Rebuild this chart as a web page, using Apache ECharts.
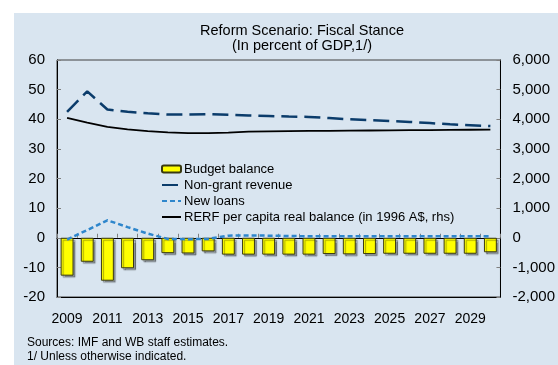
<!DOCTYPE html>
<html>
<head>
<meta charset="utf-8">
<script src="https://cdn.jsdelivr.net/npm/echarts@6/dist/echarts.min.js"></script>
<style>
  html, body { margin: 0; padding: 0; background: #ffffff; }
  #panel { position: absolute; left: 14px; top: 13px; width: 544px; height: 352px; background: #D9E5F0; }
  #chart { position: absolute; left: 0; top: 0; width: 558px; height: 365px; }
</style>
</head>
<body>
<div id="panel"></div>
<div id="chart"></div>
<script>
// Years on the category axis
const years = ['2009','2010','2011','2012','2013','2014','2015','2016','2017','2018','2019',
               '2020','2021','2022','2023','2024','2025','2026','2027','2028','2029','2030'];

// Percent of GDP (left axis)
const budgetBalance = [-12.8, -8.1, -14.5, -10.3, -7.6, -5.2, -5.3, -4.6, -5.7, -5.7, -5.7,
                       -5.7, -5.7, -5.5, -5.6, -5.5, -5.4, -5.4, -5.4, -5.4, -5.4, -4.9];
const nonGrantRevenue = [42.5, 49.4, 43.3, 42.5, 42.0, 41.6, 41.6, 41.7, 41.5, 41.3, 41.1,
                         40.9, 40.8, 40.4, 40.0, 39.7, 39.4, 39.1, 38.7, 38.3, 38.0, 37.7];
const newLoans = [-0.6, 2.6, 5.9, 3.6, 1.4, -0.4, -0.5, -0.4, 0.7, 0.8, 0.7,
                  0.6, 0.5, 0.5, 0.5, 0.5, 0.5, 0.5, 0.5, 0.5, 0.5, 0.5];

// RERF per capita real balance, 1996 A$ (right axis)
const rerfBalance = [4050, 3890, 3740, 3660, 3600, 3555, 3535, 3530, 3550, 3580, 3590,
                     3600, 3610, 3610, 3615, 3620, 3625, 3630, 3635, 3640, 3645, 3650];

// Axis ranges
const leftAxis = { min: -20, max: 60, interval: 10 };
const rightAxis = { min: -2000, max: 6000, interval: 1000 };

const FONT = "'Liberation Sans', Arial, sans-serif";
const chart = echarts.init(document.getElementById('chart'), null, { renderer: 'canvas' });

// Line entries in the legend show only the stroke, no marker
const noMarker = { color: 'rgba(0,0,0,0)', borderColor: 'rgba(0,0,0,0)', borderWidth: 0 };

chart.setOption({
  animation: false,
  textStyle: { fontFamily: FONT },
  title: [
    {
      text: 'Reform Scenario: Fiscal Stance\n(In percent of GDP,1/)',
      left: 302, top: 23, textAlign: 'center', padding: 0,
      textStyle: { fontFamily: FONT, fontSize: 14.5, fontWeight: 'normal', color: '#000', lineHeight: 15 }
    },
    {
      text: 'Sources: IMF and WB staff estimates.\n1/ Unless otherwise indicated.',
      left: 27, top: 335, padding: 0,
      textStyle: { fontFamily: FONT, fontSize: 12, fontWeight: 'normal', color: '#000', lineHeight: 14.5 }
    }
  ],
  grid: {
    left: 57, right: 56, top: 60, bottom: 68,
    show: true, borderColor: '#404040', borderWidth: 1, backgroundColor: 'transparent'
  },
  legend: {
    orient: 'vertical', left: 161, top: 162, padding: 0,
    itemWidth: 19, itemHeight: 7, itemGap: 2,
    textStyle: { fontFamily: FONT, fontSize: 13, color: '#000', lineHeight: 14, padding: [0, 0, 0, -2] },
    itemStyle: { shadowBlur: 0, shadowOffsetX: 0, shadowOffsetY: 0, shadowColor: 'transparent' },
    data: [
      { name: 'Budget balance' },
      { name: 'Non-grant revenue', itemStyle: noMarker },
      { name: 'New loans', itemStyle: noMarker },
      { name: 'RERF per capita real balance (in 1996 A$, rhs)', itemStyle: noMarker }
    ]
  },
  xAxis: [
    {
      type: 'category', data: years, position: 'bottom',
      axisLine: { onZero: false, lineStyle: { color: '#000', width: 1 } },
      axisTick: { show: false },
      axisLabel: { interval: 1, margin: 15, fontFamily: FONT, fontSize: 14, color: '#000' }
    },
    {
      type: 'category', data: years, position: 'bottom',
      axisLine: { onZero: true, onZeroAxisIndex: 0, lineStyle: { color: '#000', width: 1 } },
      axisTick: { show: true, inside: true, length: 4, interval: 0, lineStyle: { color: '#7f7f7f' } },
      axisLabel: { show: false }
    }
  ],
  yAxis: [
    {
      type: 'value', position: 'left',
      min: leftAxis.min, max: leftAxis.max, interval: leftAxis.interval,
      splitLine: { show: false },
      axisLine: { show: true, lineStyle: { color: '#000', width: 1 } },
      axisTick: { show: true, inside: true, length: 4, lineStyle: { color: '#7f7f7f' } },
      axisLabel: { margin: 12, fontFamily: FONT, fontSize: 15, color: '#000' }
    },
    {
      type: 'value', position: 'right',
      min: rightAxis.min, max: rightAxis.max, interval: rightAxis.interval,
      splitLine: { show: false },
      axisLine: { show: true, lineStyle: { color: '#000', width: 1 } },
      axisTick: { show: true, inside: true, length: 4, lineStyle: { color: '#7f7f7f' } },
      axisLabel: {
        margin: 12, fontFamily: FONT, fontSize: 15, color: '#000',
        formatter: v => v.toLocaleString('en-US')
      }
    }
  ],
  series: [
    {
      name: 'Budget balance', type: 'bar', data: budgetBalance,
      xAxisIndex: 0, yAxisIndex: 0, barWidth: '64%', z: 2,
      itemStyle: {
        color: '#FFFF00', borderColor: '#3a3a10', borderWidth: 1,
        shadowColor: 'rgba(0,0,0,0.35)', shadowOffsetX: 2, shadowOffsetY: 2, shadowBlur: 1
      }
    },
    {
      name: 'Non-grant revenue', type: 'line', data: nonGrantRevenue,
      xAxisIndex: 0, yAxisIndex: 0, symbol: 'none', z: 4,
      lineStyle: { color: '#0B3C6B', width: 2.5, type: [16, 7] },
      itemStyle: { color: '#0B3C6B' }
    },
    {
      name: 'New loans', type: 'line', data: newLoans,
      xAxisIndex: 0, yAxisIndex: 0, symbol: 'none', z: 4,
      lineStyle: { color: '#2E86CC', width: 2.5, type: [5, 3] },
      itemStyle: { color: '#2E86CC' }
    },
    {
      name: 'RERF per capita real balance (in 1996 A$, rhs)', type: 'line', data: rerfBalance,
      xAxisIndex: 0, yAxisIndex: 1, symbol: 'none', z: 5,
      lineStyle: { color: '#000', width: 1.8 },
      itemStyle: { color: '#000' }
    }
  ]
});
</script>
</body>
</html>
